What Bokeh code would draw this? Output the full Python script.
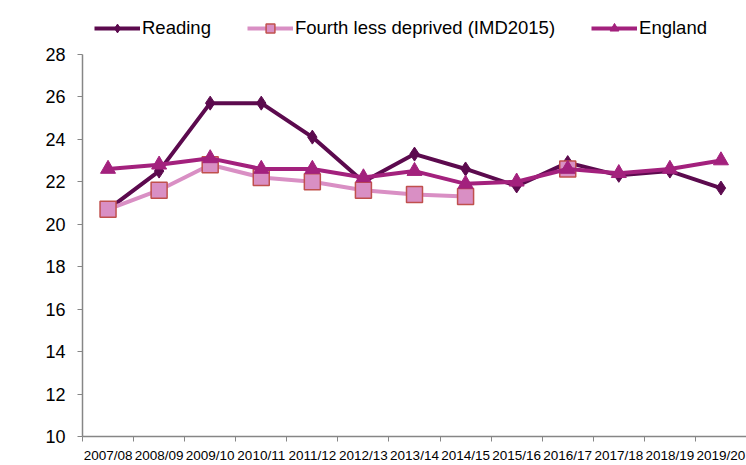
from bokeh.plotting import figure
from bokeh.models import FixedTicker, Legend, LegendItem, Range1d
from bokeh.embed import file_html
from bokeh.resources import INLINE
import numpy as np

categories = ["2007/08", "2008/09", "2009/10", "2010/11", "2011/12", "2012/13", "2013/14",
              "2014/15", "2015/16", "2016/17", "2017/18", "2018/19", "2019/20"]
reading = [20.7, 22.5, 25.7, 25.7, 24.1, 22.0, 23.3, 22.6, 21.8, 22.9, 22.3, 22.5, 21.7]
fourth = [20.7, 21.6, 22.8, 22.2, 22.0, 21.6, 21.4, 21.3, np.nan, 22.6, np.nan, np.nan, np.nan]
england = [22.6, 22.8, 23.1, 22.6, 22.6, 22.2, 22.5, 21.9, 22.0, 22.6, 22.4, 22.6, 23.0]
y_ticks = [10, 12, 14, 16, 18, 20, 22, 24, 26, 28]
y_min, y_max = 10, 28

FONT = "Liberation Sans"
x = [i + 0.5 for i in range(len(categories))]

W, H = 746, 465
TOP, BOTTOM, LEFT = 12, 27, 82
frame_h = H - TOP - BOTTOM
axis_h = 384  # pixel height of the 10..28 axis
y_end = y_min + (y_max - y_min) * frame_h / axis_h

p = figure(width=W, height=H, output_backend="svg", toolbar_location=None,
           x_range=Range1d(0, len(categories)), y_range=Range1d(y_min, y_end),
           min_border_left=LEFT, min_border_right=0, min_border_top=TOP, min_border_bottom=BOTTOM)
p.outline_line_color = None
p.xgrid.visible = False
p.ygrid.visible = False

r1 = p.line(x, reading, line_color="#5C0A4E", line_width=4)
m1 = p.scatter(x, reading, marker="diamond", size=14, fill_color="#5C0A4E", line_color="#5C0A4E")
r2 = p.line(x, fourth, line_color="#D98FC4", line_width=4)
m2 = p.scatter(x, fourth, marker="square", size=16, fill_color="#D98FC4", line_color="#C0504D", line_width=1.5)
r3 = p.line(x, england, line_color="#A3217D", line_width=4)
m3 = p.scatter(x, england, marker="triangle", size=15, fill_color="#A3217D", line_color="#A3217D")

p.xaxis.ticker = FixedTicker(ticks=x, minor_ticks=list(range(len(categories) + 1)))
p.xaxis.major_label_overrides = {xi: c for xi, c in zip(x, categories)}
p.xaxis.major_tick_out = 0
p.xaxis.major_tick_in = 0
p.xaxis.minor_tick_out = 5
p.xaxis.minor_tick_in = 0
p.xaxis.minor_tick_line_color = "#868686"
p.xaxis.axis_line_color = "#868686"
p.xaxis.axis_line_width = 1.5
p.xaxis.major_label_text_font = FONT
p.xaxis.major_label_text_font_size = "13.5px"
p.xaxis.major_label_text_color = "#000000"
p.xaxis.major_label_standoff = 6

p.yaxis.ticker = FixedTicker(ticks=y_ticks)
p.yaxis.bounds = (y_min, y_max)
p.yaxis.major_tick_out = 5
p.yaxis.major_tick_in = 0
p.yaxis.minor_tick_line_color = None
p.yaxis.major_tick_line_color = "#868686"
p.yaxis.axis_line_color = "#868686"
p.yaxis.axis_line_width = 1.5
p.yaxis.major_label_text_font = FONT
p.yaxis.major_label_text_font_size = "18px"
p.yaxis.major_label_text_color = "#000000"
p.yaxis.major_label_standoff = 12

legend = Legend(items=[
    LegendItem(label="Reading", renderers=[r1, m1]),
    LegendItem(label="Fourth less deprived (IMD2015)", renderers=[r2, m2]),
    LegendItem(label="England", renderers=[r3, m3]),
], orientation="horizontal", location=(12, frame_h - 29))
legend.label_text_font = FONT
legend.label_text_font_size = "18.5px"
legend.label_text_color = "#000000"
legend.glyph_width = 46
legend.glyph_height = 22
legend.spacing = 36
legend.label_standoff = 2
legend.border_line_color = None
legend.background_fill_alpha = 0
legend.padding = 4
legend.margin = 0
p.add_layout(legend, "center")

open("out.html", "w").write(file_html(p, INLINE))
